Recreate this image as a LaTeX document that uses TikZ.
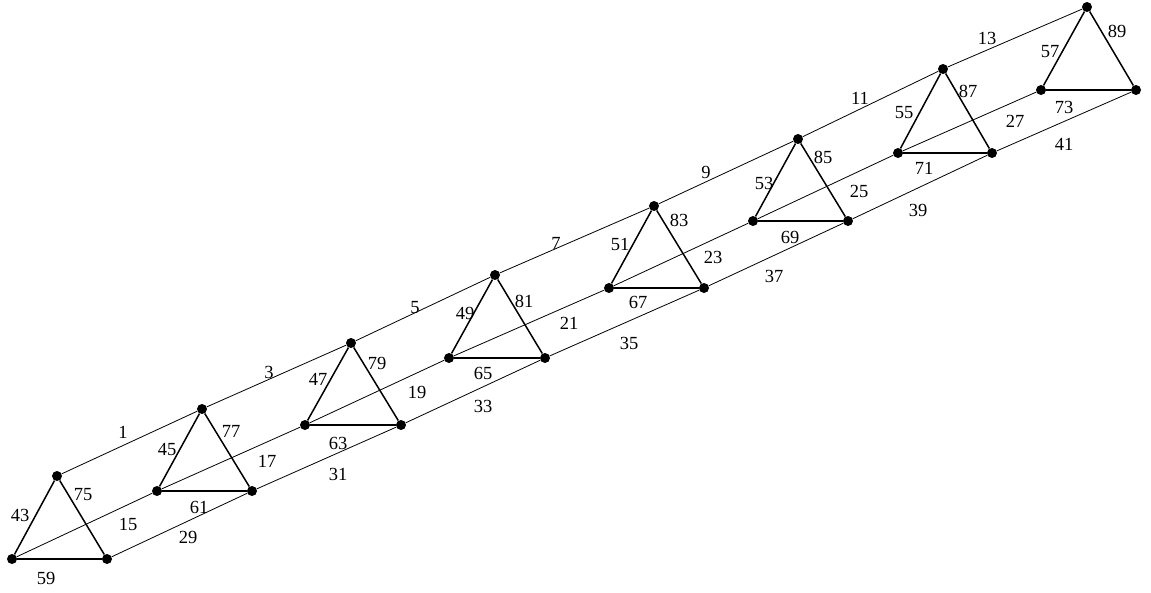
\documentclass[tikz,border=0pt]{standalone}
\usepackage{fontspec}
\setmainfont{Liberation Serif}
\begin{document}
\begin{tikzpicture}[x=1pt,y=-1pt,
  vtx/.style={circle,fill=black,inner sep=0pt,minimum size=10pt},
  chain/.style={line width=0.8pt,black},
  tri/.style={line width=1.5pt,black},
  lab/.style={inner sep=0pt,font=\fontsize{18.5}{21}\selectfont}]
\useasboundingbox (0,0) rectangle (1151,592);
% vertices
\foreach \i/\tx/\ty/\lx/\ly/\rx/\ry in {
 0/57/476/12/559/107/559,
 1/202/409/157/491/252/491,
 2/351/343/305/425/401/425,
 3/495/275/449/358/545/358,
 4/654/206/609/288/704/288,
 5/798/139/753/221/848/221,
 6/943/69/898/153/992/153,
 7/1087/7/1041/90/1136/90}{
  \node[vtx] (t\i) at (\tx,\ty) {};
  \node[vtx] (l\i) at (\lx,\ly) {};
  \node[vtx] (r\i) at (\rx,\ry) {};
}
% chains
\foreach \i [evaluate=\i as \j using int(\i+1)] in {0,...,6}{
  \draw[chain] (t\i) -- (t\j);
  \draw[chain] (l\i) -- (l\j);
  \draw[chain] (r\i) -- (r\j);
}
% triangles
\foreach \i in {0,...,7}{
  \draw[tri] (t\i) -- (l\i);
  \draw[tri] (t\i) -- (r\i);
  \draw[tri] (l\i) -- (r\i);
}
% labels
\foreach \n/\x/\y in {
 1/123/432, 3/269/372, 5/415/308, 7/556/243, 9/706/172, 11/860/98, 13/987/38,
 15/128/524, 17/267/461, 19/417/392, 21/569/323, 23/713/257, 25/859/191, 27/1015/121,
 29/188/537, 31/338/474, 33/483/406, 35/629/343, 37/774/276, 39/918/210, 41/1064/144,
 43/20/515, 45/167/449, 47/318/379, 49/465/313, 51/620/244, 53/764/183, 55/904/113, 57/1050/52,
 59/46/578, 61/199/507, 63/338/443, 65/483/373, 67/638/302, 69/790/237, 71/924/168, 73/1064/107,
 75/83/495, 77/231/431, 79/377/363, 81/524/301, 83/679/220, 85/823/157, 87/968/91, 89/1117/31}{
  \node[lab] (e\n) at (\x,\y) {\n};
}
\end{tikzpicture}
\end{document}
